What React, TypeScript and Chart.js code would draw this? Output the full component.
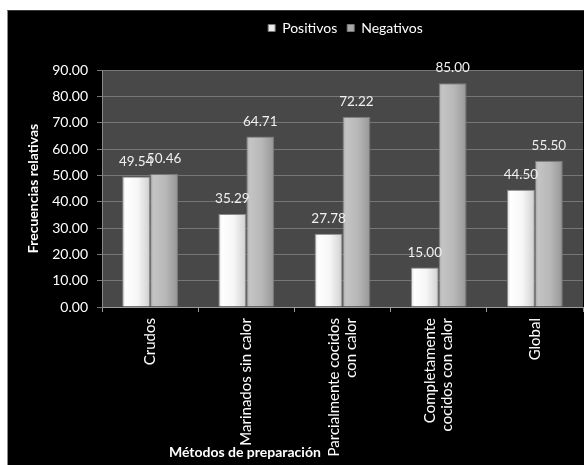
import React, { useEffect, useRef } from "react";
import { Chart, registerables } from "chart.js";

Chart.register(...registerables);

const categories: (string | string[])[] = [
  "Crudos",
  "Marinados sin calor",
  ["Parcialmente cocidos", "con calor"],
  ["Completamente", "cocidos con calor"],
  "Global",
];
const seriesNames = ["Positivos", "Negativos"];
const positivos = [49.54, 35.29, 27.78, 15.0, 44.5];
const negativos = [50.46, 64.71, 72.22, 85.0, 55.5];
const yMin = 0;
const yMax = 90;
const yStep = 10;
const yTitle = "Frecuencias relativas";
const xTitle = "Métodos de preparación";

const FONT = "Lato, 'Open Sans', 'DejaVu Sans', sans-serif";
const legendColors = ["#ececec", "#a9a9a9"];
const gradientStops: [number, string][][] = [
  [
    [0, "#d6d6d6"],
    [0.12, "#ffffff"],
    [0.55, "#f6f6f6"],
    [0.9, "#d8d8d8"],
    [1, "#c2c2c2"],
  ],
  [
    [0, "#a8a8a8"],
    [0.12, "#c4c4c4"],
    [0.55, "#b8b8b8"],
    [0.9, "#9e9e9e"],
    [1, "#909090"],
  ],
];

function barFill(ctx: any) {
  const ds = ctx.datasetIndex;
  const el = ctx.element;
  if (!el || !isFinite(el.x) || !isFinite(el.width)) return legendColors[ds];
  const c = ctx.chart.ctx as CanvasRenderingContext2D;
  const g = c.createLinearGradient(el.x - el.width / 2, 0, el.x + el.width / 2, 0);
  gradientStops[ds].forEach(([o, col]) => g.addColorStop(o, col));
  return g;
}

const plotBg = {
  id: "plotBg",
  beforeDraw(chart: any) {
    const { ctx, chartArea: a } = chart;
    ctx.save();
    ctx.fillStyle = "#484848";
    ctx.fillRect(a.left, a.top, a.right - a.left, a.bottom - a.top);
    ctx.restore();
    // center multi-line rotated category labels on their tick
    const xs = chart.scales.x;
    if (xs && xs.getLabelItems) {
      const items = xs.getLabelItems();
      if (items && !items.__centered) {
        items.forEach((it: any) => {
          const n = Array.isArray(it.label) ? it.label.length : 1;
          if (n > 1 && it.options && it.options.translation) {
            it.options.translation[0] -= ((n - 1) * it.font.lineHeight) / 2;
          }
        });
        items.__centered = true;
      }
    }
  },
};

const legendSpacer = {
  id: "legendSpacer",
  beforeLayout(chart: any) {
    const lg = chart.legend;
    if (!lg || lg.__spaced) return;
    const fit = lg.fit;
    lg.fit = function () {
      fit.call(this);
      this.height += 25;
    };
    lg.__spaced = true;
  },
  afterLayout(chart: any) {
    const lg = chart.legend;
    if (lg) lg.left += 74;
  },
};

const valueLabels = {
  id: "valueLabels",
  afterDatasetsDraw(chart: any) {
    const { ctx } = chart;
    ctx.save();
    ctx.font = `13.5px ${FONT}`;
    ctx.fillStyle = "#f0f0f0";
    ctx.textAlign = "center";
    ctx.textBaseline = "alphabetic";
    chart.data.datasets.forEach((ds: any, di: number) => {
      const meta = chart.getDatasetMeta(di);
      meta.data.forEach((el: any, i: number) => {
        ctx.fillText(Number(ds.data[i]).toFixed(2), el.x, el.y - 11);
      });
    });
    ctx.restore();
  },
};

const xTitlePlugin = {
  id: "xTitlePlugin",
  afterDraw(chart: any) {
    const { ctx, chartArea: a } = chart;
    ctx.save();
    ctx.font = `bold 14px ${FONT}`;
    ctx.fillStyle = "#ffffff";
    ctx.textAlign = "center";
    ctx.textBaseline = "middle";
    ctx.fillText(xTitle, a.left + (a.right - a.left) * 0.297, chart.height - 13);
    ctx.restore();
  },
};

export default function App() {
  const ref = useRef<HTMLCanvasElement | null>(null);

  useEffect(() => {
    if (!ref.current) return;
    const chart = new Chart(ref.current, {
      type: "bar",
      data: {
        labels: categories,
        datasets: [
          {
            label: seriesNames[0],
            data: positivos,
            backgroundColor: barFill as any,
            borderColor: "#8a8a8a",
            borderWidth: 1,
            categoryPercentage: 0.58,
            barPercentage: 1,
          },
          {
            label: seriesNames[1],
            data: negativos,
            backgroundColor: barFill as any,
            borderColor: "#7a7a7a",
            borderWidth: 1,
            categoryPercentage: 0.58,
            barPercentage: 1,
          },
        ],
      },
      options: {
        responsive: false,
        animation: false,
        events: [],
        layout: { padding: { left: 26, right: 1, top: 0, bottom: 0 } },
        font: { family: FONT, size: 13 },
        plugins: {
          tooltip: { enabled: false },
          legend: {
            display: true,
            position: "top",
            labels: {
              color: "#ffffff",
              boxWidth: 7,
              boxHeight: 7,
              padding: 10,
              font: { family: FONT, size: 14 },
              generateLabels: (chart: any) =>
                (Chart.defaults.plugins.legend.labels as any)
                  .generateLabels(chart)
                  .map((l: any, i: number) => ({
                    ...l,
                    fillStyle: legendColors[i],
                    strokeStyle: "#777777",
                    lineWidth: 1,
                    fontColor: "#ffffff",
                  })),
            },
          },
        },
        scales: {
          x: {
            offset: true,
            grid: {
              display: true,
              offset: true,
              drawOnChartArea: false,
              drawTicks: true,
              tickLength: 5,
              color: "#9a9a9a",
            },
            border: { display: true, color: "#9a9a9a", width: 1 },
            ticks: {
              color: "#ffffff",
              font: { family: FONT, size: 15, lineHeight: 1.1 },
              minRotation: 90,
              maxRotation: 90,
              autoSkip: false,
              padding: 6,
            },
            afterFit: (scale: any) => {
              scale.height = 158;
            },
          },
          y: {
            min: yMin,
            max: yMax,
            grid: {
              display: true,
              color: "#767676",
              drawTicks: true,
              tickLength: 5,
            },
            border: { display: true, color: "#8a8a8a", width: 1 },
            ticks: {
              stepSize: yStep,
              color: "#ffffff",
              font: { family: FONT, size: 14 },
              padding: 9,
              callback: (v: any) => Number(v).toFixed(2),
            },
            title: {
              display: true,
              text: yTitle,
              color: "#ffffff",
              font: { family: FONT, size: 14, weight: "bold" },
              padding: { top: -9.4, bottom: 0 },
            },
            afterFit: (scale: any) => {
              scale.width = 68;
            },
          },
        },
      },
      plugins: [plotBg, legendSpacer, valueLabels, xTitlePlugin],
    } as any);
    chart.update();
    let alive = true;
    const fonts: any = (document as any).fonts;
    if (fonts && fonts.load) {
      Promise.all([fonts.load(`13px Lato`), fonts.load(`bold 13px Lato`)])
        .then(() => {
          if (alive) chart.update();
        })
        .catch(() => {});
    }
    return () => {
      alive = false;
      chart.destroy();
    };
  }, []);

  return (
    <div
      style={{
        position: "fixed",
        left: 0,
        top: 0,
        width: 584,
        height: 465,
        background: "#ffffff",
        overflow: "hidden",
      }}
    >
      <div
        style={{
          position: "absolute",
          left: 7,
          top: 10,
          width: 577,
          height: 455,
          background: "#000000",
          borderLeft: "1px solid #8a8a8a",
          borderTop: "1px solid #3a3a3a",
          boxSizing: "border-box",
        }}
      >
        <canvas ref={ref} width={576} height={454} style={{ display: "block" }} />
      </div>
    </div>
  );
}
